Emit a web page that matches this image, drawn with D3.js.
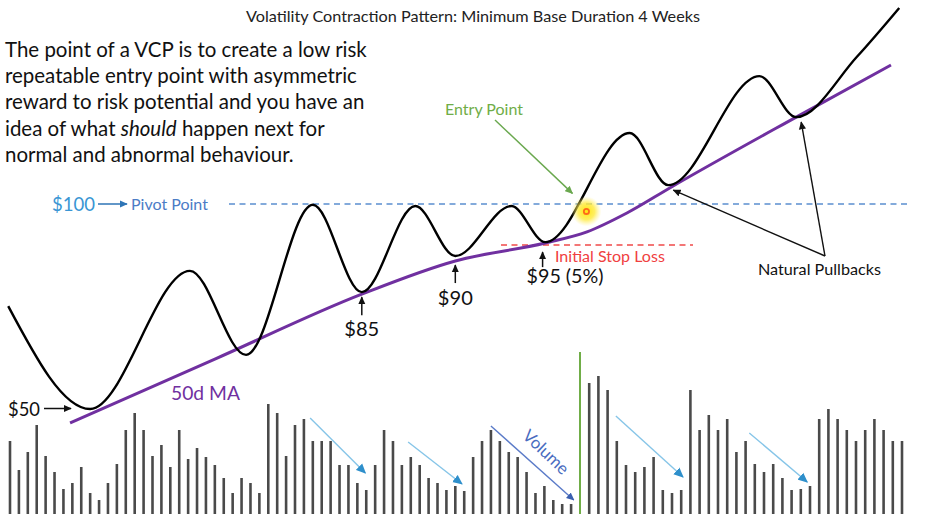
<!DOCTYPE html>
<html><head><meta charset="utf-8">
<script src="https://cdn.jsdelivr.net/npm/d3@7"></script>
<style>body{margin:0;background:#fff}svg{display:block}text{font-family:Lato,"Open Sans",sans-serif}</style>
</head><body><svg id="c" width="927" height="517"></svg>
<script>
// ---------- data ----------
const titleText = "Volatility Contraction Pattern: Minimum Base Duration 4 Weeks";
const introLines = [
  ["The point of a VCP is to create a low risk"],
  ["repeatable entry point with asymmetric"],
  ["reward to risk potential and you have an"],
  ["idea of what ", "should", " happen next for"],
  ["normal and abnormal behaviour."]
];
// volume per day (breakout day 64 is the green bar)
const volume = [73,44,62,89,58,42,25,31,47,21,14,31,50,84,101,84,58,69,47,84,
  55,66,57,49,36,21,36,31,21,110,101,58,89,95,73,73,73,49,49,31,
  24,49,84,73,49,57,49,36,31,24,28,23,57,73,84,73,62,57,42,21,
  28,14,10,10,131,138,124,73,49,42,47,57,24,21,24,124,84,99,84,95,
  62,73,50,42,50,36,24,25,28,95,105,95,84,73,84,95,84,73,73];
const breakoutDay = 64;
const breakoutVolume = 162;
// price path (day, level)
const priceDays   = [-0.2, 9.0, 20.2, 26.5, 34.0, 39.5, 45.5, 50.0, 56.3, 60.1, 69.4, 73.6, 83.5, 87.5, 94.1, 98.7];
const priceLevels = [75.1, 50.0, 83.7, 63.2, 99.8, 78.5, 99.5, 87.3, 99.5, 90.7, 117.3, 104.6, 131.2, 121.2, 135.9, 147.8];
// 50 day moving average
const maDays   = [6.74, 23.13, 39.5, 50.0, 60.1, 64.76, 69.1, 73.9, 87.5, 97.8];
const maLevels = [46.6, 62.3, 78.0, 86.1, 90.5, 93.2, 97.8, 104.1, 121.2, 133.9];
const pivotLevel = 100;
const stopLevel = 90;
const entry = {day: 64.7, level: 98.2};
const lowLabels = [
  {text: "$85", day: 39.5, level: 78.5},
  {text: "$90", day: 50.0, level: 87.3},
  {text: "$95 (5%)", day: 59.8, level: 90.7}
];
const pullbacks = [{day: 73.6, level: 104.6}, {day: 87.5, level: 121.2}];
// volume contraction arrows [startDay, startVol, endDay, endVol]
const volArrows = [[33.7, 96, 39.9, 41], [44.7, 72, 50.75, 30], [67.9, 98, 75.2, 37], [82.4, 81, 88.7, 32]];
const volumeArrow = [54, 88, 63.3, 14];

// ---------- scales ----------
const svg = d3.select("#c");
const x = d3.scaleLinear().domain([0, 64, 99]).range([10, 580, 902]);
const y = d3.scaleLinear().domain([50, 100]).range([409, 204]);
const yv = d3.scaleLinear().domain([0, 165]).range([514, 349]);

function fit(sel, w){
  sel.style("font-size","20px");
  const L = sel.node().getComputedTextLength();
  sel.style("font-size", (20*w/L)+"px");
  return sel;
}

// markers
const defs = svg.append("defs");
function marker(id, color, size){
  defs.append("marker").attr("id", id).attr("viewBox","0 0 10 10").attr("refX",9).attr("refY",5)
    .attr("markerWidth",size).attr("markerHeight",size).attr("markerUnits","userSpaceOnUse").attr("orient","auto")
    .append("path").attr("d","M0,0.5L10,5L0,9.5Z").attr("fill",color);
}
marker("ablack","#111",8);
marker("ablue","#2E75B6",8);
marker("agreen","#6AA84F",8);
marker("alight","#2E8FCB",10);
marker("avol","#3A5FB0",8);
const glow = defs.append("radialGradient").attr("id","glow");
glow.append("stop").attr("offset","0%").attr("stop-color","#FFE600").attr("stop-opacity",0.95);
glow.append("stop").attr("offset","55%").attr("stop-color","#FFEA3A").attr("stop-opacity",0.8);
glow.append("stop").attr("offset","100%").attr("stop-color","#FFF07A").attr("stop-opacity",0);

// ---------- title & text ----------
fit(svg.append("text").attr("x",473).attr("y",22).attr("text-anchor","middle").attr("fill","#222").text(titleText), 454);

const para = svg.append("g");
let paraSize = null;
introLines.forEach((parts,i)=>{
  const t = para.append("text").attr("x",5).attr("y",57+i*26.2).attr("fill","#111");
  parts.forEach((p,j)=>t.append("tspan").text(p).style("font-style", j===1 ? "italic":"normal"));
  if(i===0){ fit(t,362); paraSize = t.style("font-size"); } else t.style("font-size", paraSize);
});

// ---------- volume ----------
const volDays = d3.range(100).filter(d=>d!==breakoutDay);
svg.append("g").selectAll("line").data(volDays).join("line")
  .attr("x1",d=>x(d)).attr("x2",d=>x(d))
  .attr("y1",yv(0)).attr("y2",(d,i)=>yv(volume[i]))
  .attr("stroke","#4a4a4a").attr("stroke-width",2.6);
svg.append("line").attr("x1",x(breakoutDay)).attr("x2",x(breakoutDay)).attr("y1",yv(0)).attr("y2",yv(breakoutVolume))
  .attr("stroke","#70AD47").attr("stroke-width",2);
volArrows.forEach(a=>{
  svg.append("line").attr("x1",x(a[0])).attr("y1",yv(a[1])).attr("x2",x(a[2])).attr("y2",yv(a[3]))
    .attr("stroke","#86C5E8").attr("stroke-width",1.4).attr("marker-end","url(#alight)");
});
svg.append("line").attr("x1",x(volumeArrow[0])).attr("y1",yv(volumeArrow[1])).attr("x2",x(volumeArrow[2])).attr("y2",yv(volumeArrow[3]))
  .attr("stroke","#5B7BC8").attr("stroke-width",1.4).attr("marker-end","url(#avol)");
fit(svg.append("text").attr("transform","translate(546,452) rotate(43.5)").attr("text-anchor","middle")
  .attr("dy","0.35em").attr("fill","#4A6CC0").text("Volume"), 56);

// ---------- reference lines ----------
svg.append("line").attr("x1",229).attr("x2",910).attr("y1",y(pivotLevel)).attr("y2",y(pivotLevel))
  .attr("stroke","#5B8FD0").attr("stroke-width",1.6).attr("stroke-dasharray","6,4.5");
svg.append("line").attr("x1",501).attr("x2",693).attr("y1",y(stopLevel)).attr("y2",y(stopLevel))
  .attr("stroke","#F04A4A").attr("stroke-width",1.6).attr("stroke-dasharray","6,4.5");

// ---------- MA & price ----------
const ma = d3.line().x((d,i)=>x(maDays[i])).y(d=>y(d)).curve(d3.curveMonotoneX);
svg.append("path").attr("d",ma(maLevels)).attr("fill","none").attr("stroke","#7030A0").attr("stroke-width",3);
const price = d3.line().x((d,i)=>x(priceDays[i])).y(d=>y(d)).curve(d3.curveMonotoneX);
svg.append("path").attr("d",price(priceLevels)).attr("fill","none").attr("stroke","#000").attr("stroke-width",2.4);

// entry glow
const ex = x(entry.day), ey = y(entry.level);
svg.append("circle").attr("cx",ex).attr("cy",ey).attr("r",15).attr("fill","url(#glow)");
svg.append("circle").attr("cx",ex).attr("cy",ey).attr("r",2.6).attr("fill","none").attr("stroke","#FF6A1A").attr("stroke-width",1.8);

// ---------- annotations ----------
fit(svg.append("text").attr("x",52).attr("y",210.5).attr("fill","#3A96D4").text("$100"), 43);
svg.append("line").attr("x1",98).attr("x2",127).attr("y1",y(pivotLevel)).attr("y2",y(pivotLevel))
  .attr("stroke","#2E75B6").attr("stroke-width",1.5).attr("marker-end","url(#ablue)");
fit(svg.append("text").attr("x",131).attr("y",209.5).attr("fill","#4C7CC6").text("Pivot Point"), 77);

fit(svg.append("text").attr("x",8).attr("y",415.5).attr("fill","#111").text("$50"), 32);
svg.append("line").attr("x1",44).attr("x2",71).attr("y1",y(50)-0.5).attr("y2",y(50)-0.5)
  .attr("stroke","#111").attr("stroke-width",1.5).attr("marker-end","url(#ablack)");

fit(svg.append("text").attr("x",171).attr("y",400).attr("fill","#7030A0").text("50d MA"), 69);

// [text dx, arrow tail offset, arrow tip offset, text baseline offset]
const lowOffsets = [[0,23,5,44],[0,27,9,49],[-16,25,10,41]];
lowLabels.forEach((l,i)=>{
  const lx = x(l.day), ly = y(l.level);
  const o = lowOffsets[i];
  svg.append("line").attr("x1",lx).attr("x2",lx).attr("y1",ly+o[1]).attr("y2",ly+o[2])
    .attr("stroke","#111").attr("stroke-width",1.5).attr("marker-end","url(#ablack)");
  const t = svg.append("text").attr("fill","#111").text(l.text).attr("y",ly+o[3]);
  if(i<2){ t.attr("x",lx).attr("text-anchor","middle"); fit(t,35); }
  else { t.attr("x",lx+o[0]); fit(t,77); }
});

fit(svg.append("text").attr("x",555).attr("y",262).attr("fill","#F04040").text("Initial Stop Loss"), 110);

fit(svg.append("text").attr("x",445).attr("y",115).attr("fill","#70AD47").text("Entry Point"), 78);
svg.append("line").attr("x1",495).attr("y1",120).attr("x2",ex-14).attr("y2",ey-18)
  .attr("stroke","#6AA84F").attr("stroke-width",1.4).attr("marker-end","url(#agreen)");

fit(svg.append("text").attr("x",758).attr("y",275).attr("fill","#111").text("Natural Pullbacks"), 123);
pullbacks.forEach(p=>{
  svg.append("line").attr("x1",825).attr("y1",256).attr("x2",x(p.day)+5).attr("y2",y(p.level)+5)
    .attr("stroke","#111").attr("stroke-width",1.4).attr("marker-end","url(#ablack)");
});
</script></body></html>
